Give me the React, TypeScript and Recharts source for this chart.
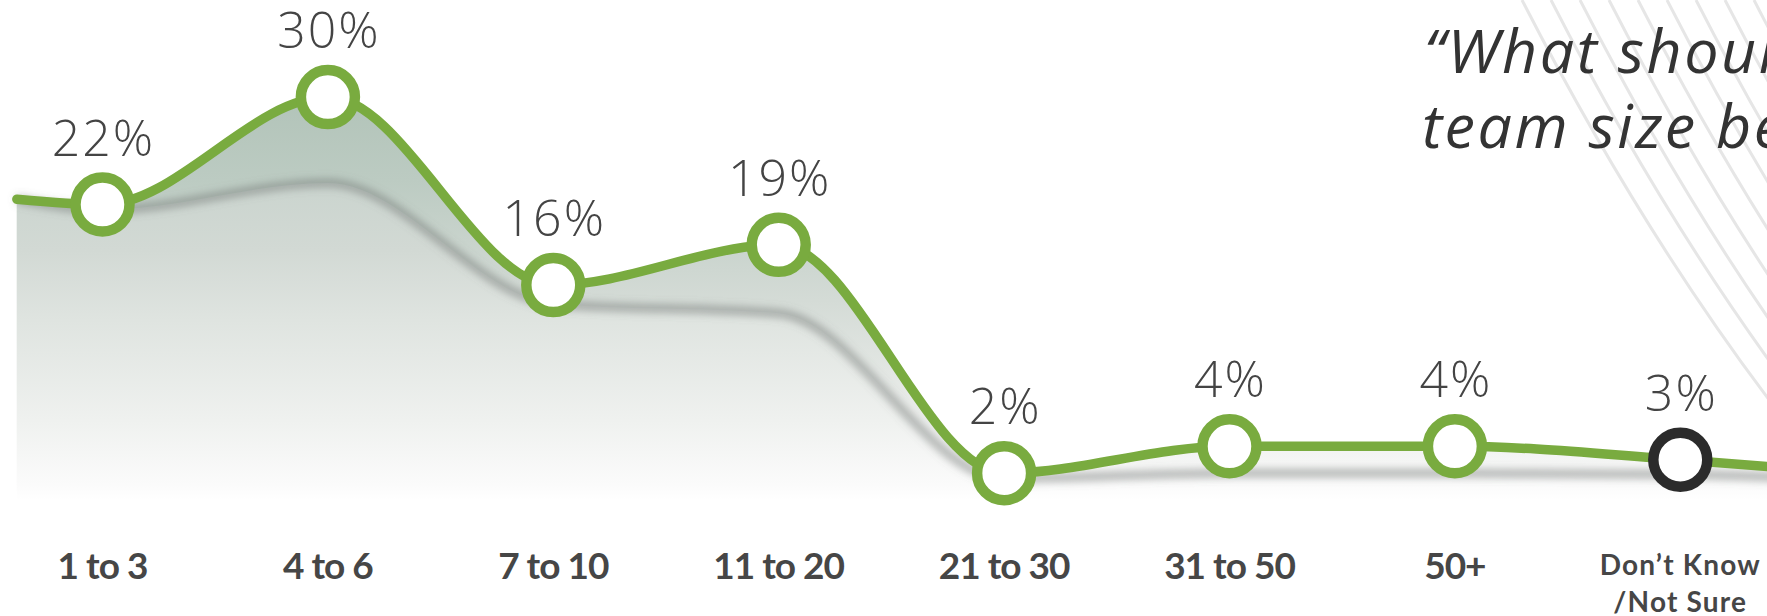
import React from 'react';
import { ComposedChart, Area, Line, XAxis, YAxis } from 'recharts';

// ---------- data ----------
const categories = ['1 to 3', '4 to 6', '7 to 10', '11 to 20', '21 to 30', '31 to 50', '50+', 'Don’t Know\n/Not Sure'];
const values = [22, 30, 16, 19, 2, 4, 4, 3];
// height of the soft grey shadow that runs under the curve, read at each category
const shadowValues = [21.6, 23.6, 14.6, 13.9, 1.6, 2.0, 2.0, 1.9];
// the curve starts a little left of the first point and runs off the right edge
const lineStart = { x: -0.38, value: 22.4, shadow: 22.4 };
const lineEnd = { x: 8, value: 1.7, shadow: 1.3 };
const highlightedCategory = 'Don’t Know\n/Not Sure';
const titleLines = ['“What should', 'team size be'];

const tableData = [
  { x: lineStart.x, value: lineStart.value, shadow: lineStart.shadow, category: null as string | null },
  ...categories.map((c, i) => ({ x: i, value: values[i], shadow: shadowValues[i], category: c })),
  { x: lineEnd.x, value: lineEnd.value, shadow: lineEnd.shadow, category: null as string | null },
];

// ---------- layout ----------
const VIEW_W = 1767;
const VIEW_H = 616;
const CHART_W = 1993;
const STEP = 225.4;
const FIRST_X = 102.5;
const X_DOMAIN: [number, number] = [-FIRST_X / STEP, (CHART_W - FIRST_X) / STEP];
const Y_DOMAIN: [number, number] = [0, 37.23];
const GREEN = '#79ab3f';
const DARK = '#2b2b2b';

const CategoryTick = (props: any) => {
  const { x, y, payload } = props;
  const label: string = categories[Math.round(payload.value)] ?? '';
  const lines = label.split('\n');
  if (lines.length > 1) {
    return (
      <text textAnchor="middle" fill="#464646" fontFamily="Lato, sans-serif" fontWeight={700} fontSize={28} letterSpacing={1.2}>
        {lines.map((l, i) => (
          <tspan key={i} x={x} y={y + 75 + i * 37}>{l}</tspan>
        ))}
      </text>
    );
  }
  return (
    <text x={x} y={y + 79} textAnchor="middle" fill="#464646" fontFamily="Lato, sans-serif" fontWeight={700} fontSize={37} letterSpacing={-1}>
      {label}
    </text>
  );
};

const renderDot = (props: any) => {
  const { cx, cy, payload, index } = props;
  if (!payload || payload.category == null) return <g key={`dot-${index}`} />;
  const dark = payload.category === highlightedCategory;
  return (
    <g key={`dot-${index}`}>
      <circle cx={cx} cy={cy} r={27} fill="#ffffff" stroke={dark ? DARK : GREEN} strokeWidth={10.5} />
      <text x={cx + 1} y={cy - 49} textAnchor="middle" fill="#444444" fontFamily="'Open Sans', sans-serif" fontWeight={300} fontSize={50} letterSpacing={2}>
        {`${payload.value}%`}
      </text>
    </g>
  );
};

const Background = () => {
  const lines = Array.from({ length: 10 }, (_, i) => i);
  return (
    <svg width={VIEW_W} height={VIEW_H} style={{ position: 'absolute', left: 0, top: 0 }}>
      {lines.map((i) => {
        const dx = i * 29;
        return (
          <path key={i} d={`M${1522 + dx},0 Q${1650 + dx},250 ${1800 + dx},440`} fill="none" stroke="#e6e6e6" strokeWidth={3} />
        );
      })}
      {titleLines.map((t, i) => (
        <text key={i} x={1424 - i * 2} y={73 + i * 75} fill="#333333" fontFamily="'Open Sans', sans-serif" fontStyle="italic" fontWeight={400} fontSize={61} letterSpacing={2.5}>
          {t}
        </text>
      ))}
    </svg>
  );
};

export default function App() {
  return (
    <div style={{ position: 'absolute', left: 0, top: 0, width: VIEW_W, height: VIEW_H, overflow: 'hidden', background: '#ffffff' }}>
      <Background />
      <div style={{ position: 'absolute', left: 0, top: 0 }}>
        <ComposedChart width={CHART_W} height={VIEW_H} data={tableData} margin={{ top: 0, right: 0, bottom: 0, left: 0 }}>
          <defs>
            <linearGradient id="mainFill" gradientUnits="userSpaceOnUse" x1="0" y1="0" x2="0" y2="500">
              <stop offset="0.18" stopColor="#b1c3b8" />
              <stop offset="0.36" stopColor="#bccbc2" />
              <stop offset="0.6" stopColor="#d4dbd6" />
              <stop offset="0.84" stopColor="#eceeec" />
              <stop offset="0.97" stopColor="#fafafa" />
              <stop offset="1" stopColor="#ffffff" />
            </linearGradient>
            <linearGradient id="lowerFill" gradientUnits="userSpaceOnUse" x1="0" y1="0" x2="0" y2="500">
              <stop offset="0.36" stopColor="#cad4ce" />
              <stop offset="0.5" stopColor="#d2d9d4" />
              <stop offset="0.64" stopColor="#dfe4e0" />
              <stop offset="0.84" stopColor="#eff1ef" />
              <stop offset="0.97" stopColor="#fbfbfb" />
              <stop offset="1" stopColor="#ffffff" />
            </linearGradient>
            <filter id="softShadow" x="-5%" y="-30%" width="110%" height="160%">
              <feGaussianBlur stdDeviation="4.5" />
            </filter>
          </defs>
          <XAxis
            dataKey="x"
            type="number"
            domain={X_DOMAIN}
            ticks={categories.map((_, i) => i)}
            interval={0}
            height={116}
            axisLine={false}
            tickLine={false}
            tickSize={0}
            tickMargin={0}
            tick={<CategoryTick />}
          />
          <YAxis hide width={0} domain={Y_DOMAIN} type="number" />
          <Area type="monotone" dataKey="value" stroke="none" fill="url(#mainFill)" fillOpacity={1} dot={false} activeDot={false} isAnimationActive={false} />
          <Area type="monotone" dataKey="shadow" stroke="none" fill="url(#lowerFill)" fillOpacity={1} dot={false} activeDot={false} isAnimationActive={false} />
          <Line type="monotone" dataKey="shadow" stroke="#6d726e" strokeWidth={7} strokeOpacity={0.6} filter="url(#softShadow)" dot={false} activeDot={false} isAnimationActive={false} />
          <Line type="monotone" dataKey="value" stroke={GREEN} strokeWidth={9.5} strokeLinecap="round" dot={renderDot} activeDot={false} isAnimationActive={false} />
        </ComposedChart>
      </div>
    </div>
  );
}
